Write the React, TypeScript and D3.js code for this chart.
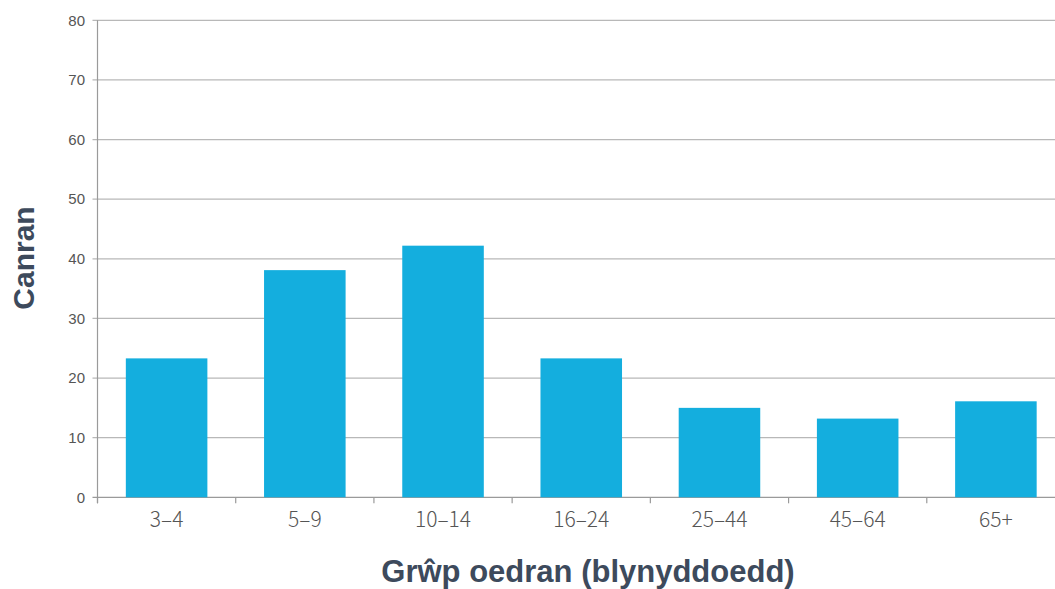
import React from "react";
import * as d3 from "d3";

const categories = ["3–4", "5–9", "10–14", "16–24", "25–44", "45–64", "65+"];
const values = [23.3, 38.1, 42.2, 23.3, 15.0, 13.2, 16.1];
const yTicks = [0, 10, 20, 30, 40, 50, 60, 70, 80];

const W = 1055;
const H = 589;
const left = 97.5;
const right = 1065;
const top = 20.3;
const bottom = 497.3;

export default function App() {
  const x = d3.scaleBand<string>().domain(categories).range([left, right]).paddingInner(0.41).paddingOuter(0.205);
  const y = d3.scaleLinear().domain([0, 80]).range([bottom, top]);
  const step = x.step();
  const bandStarts = categories.map((_, i) => left + i * step);
  const font = "'Noto Sans CJK KR', 'Noto Sans', sans-serif";
  return (
    <svg width={W} height={H} style={{ position: "absolute", left: 0, top: 0, background: "#fff" }}>
      {yTicks.map((t) => (
        <g key={t}>
          <line x1={left - 5} x2={W} y1={y(t)} y2={y(t)} stroke={t === 0 ? "#9a9a9a" : "#b8b8b8"} strokeWidth={1.2} />
          <text x={85} y={y(t)} dy="0.35em" textAnchor="end" fontSize={15} fill="#555" fontFamily="Liberation Sans, Arial, sans-serif">
            {t}
          </text>
        </g>
      ))}
      <line x1={left} x2={left} y1={top} y2={bottom + 6} stroke="#9a9a9a" strokeWidth={1.2} />
      {bandStarts.map((bx, i) => (
        <line key={i} x1={bx} x2={bx} y1={bottom} y2={bottom + 6} stroke="#9a9a9a" strokeWidth={1.2} />
      ))}
      {categories.map((c, i) => (
        <rect key={c} x={x(c)} y={y(values[i])} width={x.bandwidth()} height={y(0) - y(values[i])} fill="#14AEDE" />
      ))}
      {categories.map((c) => (
        <text key={c} x={(x(c) as number) + x.bandwidth() / 2} y={527} textAnchor="middle" fontSize={21} fontWeight={300} fill="#555" fontFamily={font}>
          {c}
        </text>
      ))}
      <text x={588} y={582} textAnchor="middle" fontSize={31} fontWeight="bold" fill="#3d4a5c" fontFamily="Liberation Sans, Arial, sans-serif">
        Grŵp oedran (blynyddoedd)
      </text>
      <text transform={`translate(33.5,258) rotate(-90)`} textAnchor="middle" fontSize={30} fontWeight="bold" fill="#3d4a5c" fontFamily="Liberation Sans, Arial, sans-serif">
        Canran
      </text>
    </svg>
  );
}
